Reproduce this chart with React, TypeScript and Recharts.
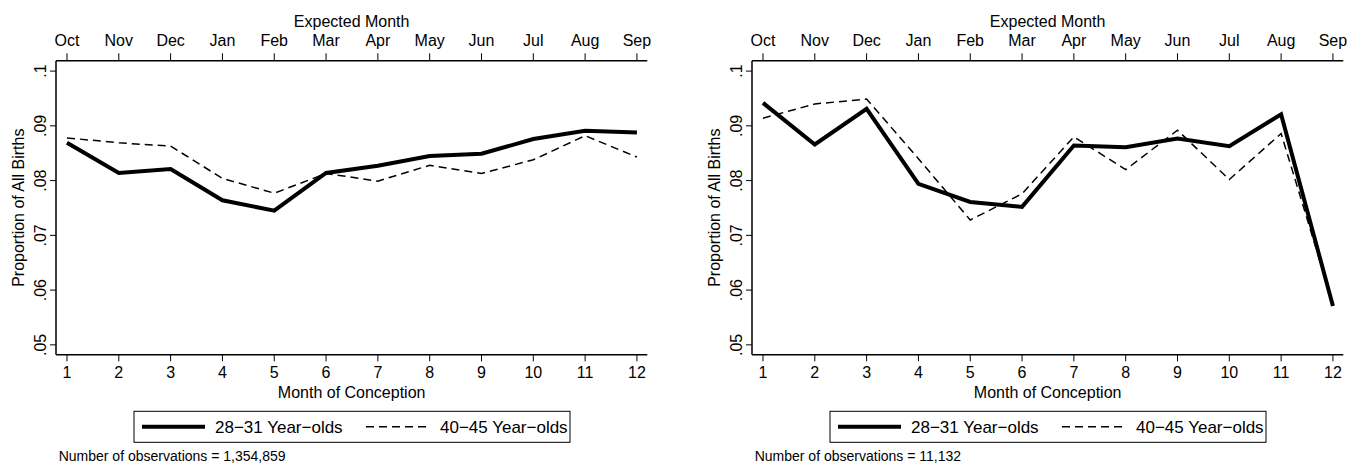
import React from 'react';
import { LineChart, Line, XAxis, YAxis, Label } from 'recharts';

// ---- data ----
const conceptionMonths = [1, 2, 3, 4, 5, 6, 7, 8, 9, 10, 11, 12];
const expectedMonths = ['Oct', 'Nov', 'Dec', 'Jan', 'Feb', 'Mar', 'Apr', 'May', 'Jun', 'Jul', 'Aug', 'Sep'];
const yTicks = [0.05, 0.06, 0.07, 0.08, 0.09, 0.1];
const yTickLabels = ['.05', '.06', '.07', '.08', '.09', '.1'];

const leftYoung = [0.0869, 0.0814, 0.0821, 0.0764, 0.0745, 0.0814, 0.0827, 0.0845, 0.0849, 0.0876, 0.0891, 0.0888];
const leftOld = [0.0878, 0.0869, 0.0863, 0.0804, 0.0777, 0.0813, 0.0799, 0.0828, 0.0813, 0.0838, 0.0882, 0.0843];
const rightYoung = [0.0942, 0.0866, 0.0931, 0.0794, 0.0761, 0.0752, 0.0864, 0.0861, 0.0877, 0.0863, 0.0921, 0.0571];
const rightOld = [0.0914, 0.094, 0.0949, 0.084, 0.0728, 0.0776, 0.088, 0.082, 0.0892, 0.0802, 0.0886, 0.0575];

const seriesNames = ['28\u221231 Year\u2212olds', '40\u221245 Year\u2212olds'];
const obsLabels = ['Number of observations = 1,354,859', 'Number of observations = 11,132'];

const FONT = '"Liberation Sans", Arial, Helvetica, sans-serif';
const X_DOMAIN: [number, number] = [0.788, 12.2];
const Y_DOMAIN: [number, number] = [0.0482, 0.1019];

const TopTick = (props: any) => {
  const { x, payload } = props;
  return (
    <text x={x} y={45.7} textAnchor="middle" fontSize={16} fontFamily={FONT} fill="#000">
      {expectedMonths[payload.value - 1]}
    </text>
  );
};

const BottomTick = (props: any) => {
  const { x, payload } = props;
  return (
    <text x={x} y={378} textAnchor="middle" fontSize={16} fontFamily={FONT} fill="#000">
      {payload.value}
    </text>
  );
};

const LeftTick = (props: any) => {
  const { y, payload } = props;
  const idx = yTicks.findIndex((t) => Math.abs(t - payload.value) < 1e-9);
  return (
    <text
      transform={`translate(45.5, ${y}) rotate(-90)`}
      textAnchor="middle"
      fontSize={16}
      fontFamily={FONT}
      fill="#000"
    >
      {idx >= 0 ? yTickLabels[idx] : ''}
    </text>
  );
};

type PanelProps = { young: number[]; old: number[]; obs: string; left: number };

const Panel = ({ young, old, obs, left }: PanelProps) => {
  const data = conceptionMonths.map((m, i) => ({ month: m, young: young[i], old: old[i] }));
  return (
    <div style={{ position: 'absolute', left, top: 0, width: 670, height: 464 }}>
      <LineChart width={670} height={464} data={data} margin={{ top: 0, right: 22.7, bottom: 0, left: 0 }}>
        <XAxis
          xAxisId="b"
          type="number"
          dataKey="month"
          domain={X_DOMAIN}
          ticks={conceptionMonths}
          interval={0}
          allowDataOverflow
          height={109.3}
          tickSize={6.6}
          axisLine={{ stroke: '#000', strokeWidth: 1.5 }}
          tickLine={{ stroke: '#000', strokeWidth: 1 }}
          tick={<BottomTick />}
        >
          <Label
            content={(p: any) => (
              <text
                x={p.viewBox.x + p.viewBox.width / 2}
                y={397.5}
                textAnchor="middle"
                fontSize={16}
                fontFamily={FONT}
                fill="#000"
              >
                Month of Conception
              </text>
            )}
          />
        </XAxis>
        <XAxis
          xAxisId="t"
          orientation="top"
          type="number"
          dataKey="month"
          domain={X_DOMAIN}
          ticks={conceptionMonths}
          interval={0}
          allowDataOverflow
          height={60.7}
          tickSize={7.4}
          axisLine={{ stroke: '#000', strokeWidth: 1.5 }}
          tickLine={{ stroke: '#000', strokeWidth: 1 }}
          tick={<TopTick />}
        >
          <Label
            content={(p: any) => (
              <text
                x={p.viewBox.x + p.viewBox.width / 2}
                y={26.7}
                textAnchor="middle"
                fontSize={16}
                fontFamily={FONT}
                fill="#000"
              >
                Expected Month
              </text>
            )}
          />
        </XAxis>
        <YAxis
          yAxisId="l"
          type="number"
          domain={Y_DOMAIN}
          ticks={yTicks}
          interval={0}
          allowDataOverflow
          width={56}
          tickSize={6}
          axisLine={{ stroke: '#000', strokeWidth: 1.5 }}
          tickLine={{ stroke: '#000', strokeWidth: 1 }}
          tick={<LeftTick />}
        >
          <Label
            content={(p: any) => (
              <text
                transform={`translate(24, ${p.viewBox.y + p.viewBox.height / 2}) rotate(-90)`}
                textAnchor="middle"
                fontSize={16}
                fontFamily={FONT}
                fill="#000"
              >
                Proportion of All Births
              </text>
            )}
          />
        </YAxis>
        <YAxis
          yAxisId="r"
          orientation="right"
          type="number"
          domain={Y_DOMAIN}
          allowDataOverflow
          width={0}
          tick={false}
          tickLine={false}
          axisLine={{ stroke: '#000', strokeWidth: 1.5 }}
        />
        <Line
          xAxisId="b"
          yAxisId="l"
          type="linear"
          dataKey="young"
          name={seriesNames[0]}
          stroke="#000"
          strokeWidth={4}
          dot={false}
          activeDot={false}
          isAnimationActive={false}
        />
        <Line
          xAxisId="b"
          yAxisId="l"
          type="linear"
          dataKey="old"
          name={seriesNames[1]}
          stroke="#000"
          strokeWidth={1.5}
          strokeDasharray="8 5"
          dot={false}
          activeDot={false}
          isAnimationActive={false}
        />
      </LineChart>
      <svg
        width={670}
        height={464}
        style={{ position: 'absolute', left: 0, top: 0, pointerEvents: 'none' }}
        fontFamily={FONT}
      >
        <rect x={134} y={411.3} width={436} height={31} fill="#fff" stroke="#000" strokeWidth={1} />
        <line x1={142} x2={205} y1={426.7} y2={426.7} stroke="#000" strokeWidth={4} />
        <text x={215} y={433.3} fontSize={17} fill="#000">
          {seriesNames[0]}
        </text>
        <line x1={366} x2={426} y1={426.7} y2={426.7} stroke="#000" strokeWidth={1.5} strokeDasharray="8 5" />
        <text x={440} y={433.3} fontSize={17} fill="#000">
          {seriesNames[1]}
        </text>
        <text x={58.7} y={460.5} fontSize={14} fill="#000">
          {obs}
        </text>
      </svg>
    </div>
  );
}

export default function App() {
  return (
    <div
      style={{
        position: 'absolute',
        left: 0,
        top: 0,
        width: 1366,
        height: 464,
        background: '#fff',
        overflow: 'hidden',
      }}
    >
      <Panel young={leftYoung} old={leftOld} obs={obsLabels[0]} left={0} />
      <Panel young={rightYoung} old={rightOld} obs={obsLabels[1]} left={696} />
    </div>
  );
}
